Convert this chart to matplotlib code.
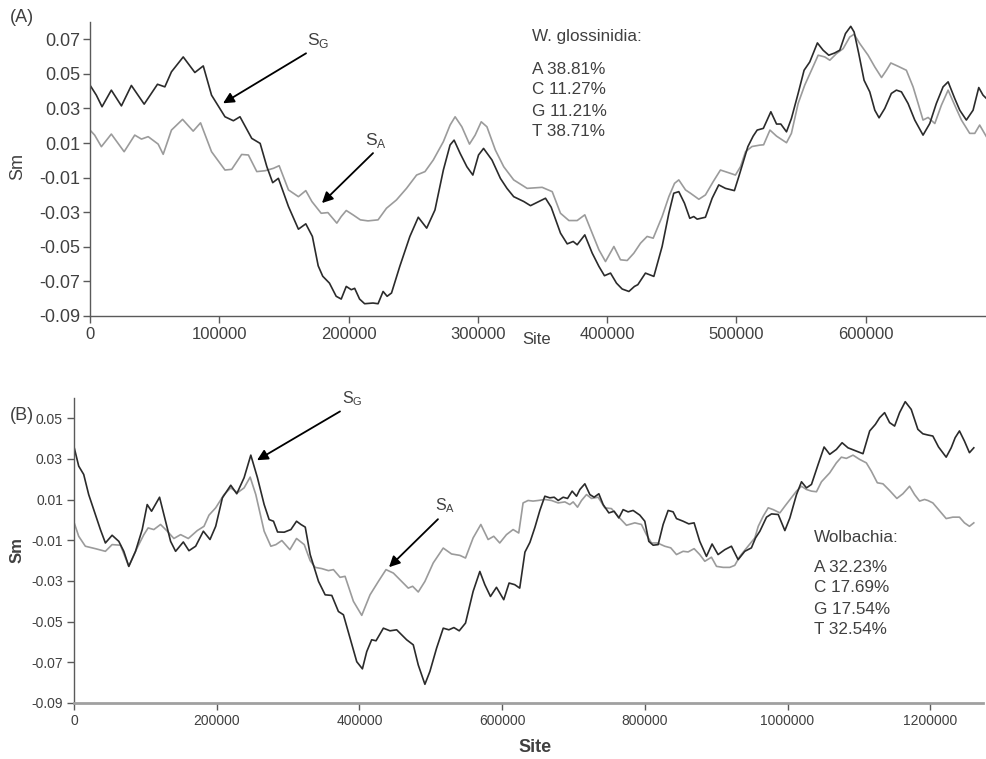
import matplotlib
matplotlib.use("Agg")
import matplotlib.pyplot as plt

plt.rcParams['font.family'] = ['Liberation Sans', 'DejaVu Sans']
plt.rcParams['mathtext.fontset'] = 'custom'
plt.rcParams['mathtext.rm'] = 'Liberation Sans'
plt.rcParams['axes.unicode_minus'] = False

# ---------------- (A) W. glossinidia ----------------
wg_site_G = [0, 4900, 9300, 16500, 24300, 32000, 41900, 52200, 57900, 63000, 72100, 81100, 87600,
             94000, 104400, 110900, 116000, 125100, 131600, 136800, 141300, 145700, 153500, 161200,
             166900, 172000, 176500, 180000, 185200, 190400, 194300, 198200, 202100, 204700, 208500,
             212400, 218900, 222800, 226700, 229800, 233200, 239600, 247400, 253900, 260400, 266800,
             273300, 278500, 281600, 286300, 291500, 296100, 300500, 304400, 310900, 317400, 322500,
             327700, 335500, 340700, 352300, 356700, 363900, 369100, 373700, 376800, 382700, 388400,
             393600, 397900, 402600, 407200, 411600, 416800, 421100, 423700, 429600, 436100, 442500,
             447700, 451500, 455400, 459800, 463900, 467000, 469600, 476000, 481200, 486300, 491500,
             498400, 501800, 505700, 508800, 512900, 516000, 520800, 526600, 531000, 534300, 538700,
             542500, 547700, 552300, 556700, 562600, 567000, 571400, 576000, 579900, 584300, 588400,
             591000, 594600, 598700, 603100, 607000, 610300, 614700, 619800, 623700, 627600, 632700,
             637900, 644300, 649500, 654600, 659800, 663700, 668800, 672700, 677800, 683000, 687400,
             690700, 693300]
wg_SG = [0.0435, 0.0377, 0.031, 0.0406, 0.0315, 0.0433, 0.0325, 0.044, 0.0425, 0.0512, 0.0598, 0.0508,
         0.0546, 0.0377, 0.0252, 0.0229, 0.0252, 0.0127, 0.0098, -0.0037, -0.0129, -0.0104, -0.0267,
         -0.0398, -0.0367, -0.044, -0.061, -0.067, -0.071, -0.0786, -0.0802, -0.0729, -0.0748, -0.074,
         -0.0802, -0.0829, -0.0825, -0.0829, -0.0758, -0.0786, -0.0767, -0.0613, -0.044, -0.0329,
         -0.0392, -0.0287, -0.0056, 0.0089, 0.0117, 0.004, -0.0037, -0.0085, 0.0031, 0.0069, 0.0002,
         -0.0104, -0.0162, -0.021, -0.0238, -0.0262, -0.0219, -0.0271, -0.0421, -0.0483, -0.0469,
         -0.0488, -0.0431, -0.0536, -0.0613, -0.0667, -0.0652, -0.071, -0.0744, -0.0758, -0.0729,
         -0.0719, -0.0652, -0.0671, -0.0498, -0.0306, -0.019, -0.0181, -0.0248, -0.0335, -0.0325,
         -0.034, -0.0329, -0.0219, -0.0142, -0.0162, -0.0175, -0.0094, 0.0002, 0.0079, 0.014, 0.0175,
         0.0185, 0.0281, 0.021, 0.021, 0.0165, 0.0242, 0.0387, 0.0521, 0.0569, 0.0679, 0.0637, 0.0608,
         0.0621, 0.0637, 0.0733, 0.0775, 0.0742, 0.0617, 0.0463, 0.0396, 0.029, 0.0246, 0.03, 0.0387,
         0.0406, 0.0396, 0.0329, 0.0233, 0.0146, 0.0213, 0.0329, 0.0425, 0.0454, 0.0358, 0.029, 0.0233,
         0.029, 0.0421, 0.0377, 0.0358]

wg_site_A = [0, 3600, 8800, 16500, 26400, 34600, 39800, 45000, 52700, 56600, 63000, 71600, 79800,
             85500, 94000, 104400, 109600, 117300, 122500, 129000, 135400, 141900, 146300, 153500,
             161200, 166900, 171600, 178800, 184000, 190900, 194300, 198200, 203400, 209100, 215000,
             222800, 229300, 237000, 244800, 252600, 259100, 265500, 273300, 278500, 282400, 287600,
             293500, 297900, 302600, 307000, 313500, 320000, 327700, 338100, 349700, 357500, 363900,
             370400, 376800, 382700, 388400, 393600, 398700, 405200, 410300, 415500, 420600, 425800,
             430900, 435600, 442500, 447700, 452100, 455400, 460600, 464400, 470900, 476000, 482000,
             487600, 495300, 499200, 503100, 507000, 512000, 518000, 521000, 525900, 531000, 538700,
             542500, 547700, 552800, 558000, 563200, 568300, 572200, 577300, 582500, 587600, 591000,
             595400, 601800, 607000, 612200, 616000, 619400, 625000, 631400, 636600, 640500, 644300,
             648200, 653400, 658500, 663700, 668800, 674000, 680400, 684300, 688100, 693300]
wg_SA = [0.0175, 0.0146, 0.0079, 0.0152, 0.005, 0.0146, 0.0123, 0.0137, 0.0094, 0.0035, 0.0175, 0.0237,
         0.0169, 0.0217, 0.005, -0.0056, -0.0052, 0.0034, 0.0031, -0.0065, -0.006, -0.0046, -0.0031,
         -0.0171, -0.021, -0.0175, -0.0238, -0.0306, -0.0302, -0.0363, -0.0325, -0.029, -0.0315,
         -0.0344, -0.035, -0.0344, -0.0277, -0.0229, -0.0162, -0.0085, -0.0065, 0.0002, 0.0108, 0.0204,
         0.0252, 0.0194, 0.0094, 0.0146, 0.0223, 0.0194, 0.006, -0.0037, -0.0113, -0.0162, -0.0156,
         -0.0181, -0.0306, -0.0348, -0.0348, -0.0315, -0.0421, -0.0517, -0.0585, -0.0498, -0.0575,
         -0.0579, -0.0537, -0.0479, -0.044, -0.045, -0.0325, -0.021, -0.0133, -0.0113, -0.0171, -0.019,
         -0.0225, -0.02, -0.0123, -0.0056, -0.0075, -0.0085, -0.0037, 0.005, 0.008, 0.0088, 0.009,
         0.0175, 0.014, 0.0102, 0.0156, 0.0329, 0.0435, 0.0521, 0.0608, 0.0598, 0.0579, 0.0617, 0.0646,
         0.0713, 0.0729, 0.0675, 0.0608, 0.054, 0.0479, 0.0521, 0.0563, 0.0544, 0.0521, 0.0425, 0.0329,
         0.0233, 0.0248, 0.0213, 0.0319, 0.0406, 0.0319, 0.0233, 0.0156, 0.0156, 0.0204, 0.0137]

wg_composition = ["A 38.81%", "C 11.27%", "G 11.21%", "T 38.71%"]

# ---------------- (B) Wolbachia ----------------
wb_site_G = [0, 6600, 13600, 20600, 30000, 37000, 44000, 53400, 62800, 69800, 76800, 86200, 95600,
             102600, 108700, 119900, 128300, 135400, 142400, 153200, 161100, 170500, 181300, 190600,
             198600, 208000, 219700, 228100, 238400, 247800, 257100, 266500, 273500, 279600, 285300,
             294600, 304000, 311900, 318000, 324100, 331000, 342700, 352000, 361300, 370600, 377600,
             386900, 396300, 404200, 410300, 417200, 423300, 433600, 442900, 452200, 466200, 475500,
             482500, 491800, 498800, 508200, 517500, 525400, 532400, 539900, 548700, 559400, 568800,
             575800, 583700, 592100, 602300, 609800, 617700, 624700, 632000, 639000, 646000, 653000,
             659900, 666900, 673000, 678600, 685600, 691700, 698200, 704300, 709000, 716000, 723000,
             729000, 735600, 741600, 749600, 757000, 763600, 769600, 776600, 783600, 793000, 800000,
             805600, 811700, 818700, 825700, 832700, 839700, 844400, 853700, 861600, 869100, 877000,
             886400, 894300, 902700, 912100, 921400, 930800, 940100, 949400, 955200, 961300, 970600,
             977600, 987000, 996300, 1003300, 1012600, 1019600, 1026600, 1033600, 1042900, 1051300,
             1059200, 1068500, 1076500, 1084800, 1094200, 1105800, 1115200, 1123100, 1129100, 1136100,
             1143100, 1150100, 1157100, 1165000, 1173400, 1182700, 1189700, 1196700, 1203700, 1211700,
             1222400, 1229400, 1235000, 1241000, 1248000, 1255000, 1261100]
wb_SG = [0.036, 0.0265, 0.0224, 0.0125, 0.0027, -0.0047, -0.0113, -0.0075, -0.0105, -0.0154, -0.0228,
         -0.0154, -0.0047, 0.0076, 0.0043, 0.0112, -0.0006, -0.0105, -0.0154, -0.0108, -0.0151, -0.0129,
         -0.0055, -0.0096, -0.0031, 0.0109, 0.0171, 0.0129, 0.0208, 0.0319, 0.0208, 0.0076, 0.0002,
         -0.0006, -0.0059, -0.006, -0.0047, -0.0006, -0.0022, -0.0035, -0.017, -0.0302, -0.0368,
         -0.0371, -0.045, -0.0466, -0.0581, -0.0697, -0.0732, -0.0647, -0.0589, -0.0594, -0.0532,
         -0.0545, -0.054, -0.0589, -0.0614, -0.0713, -0.0808, -0.0745, -0.063, -0.0532, -0.054,
         -0.0529, -0.0545, -0.0507, -0.0351, -0.0253, -0.0318, -0.0376, -0.0331, -0.0392, -0.031,
         -0.0318, -0.0335, -0.0158, -0.011, -0.0036, 0.0048, 0.0117, 0.0109, 0.0112, 0.0096, 0.0112,
         0.0106, 0.0142, 0.0117, 0.015, 0.0178, 0.0125, 0.0112, 0.0129, 0.0076, 0.0035, 0.0043, 0.001,
         0.0051, 0.004, 0.0047, 0.0024, -0.0006, -0.0105, -0.0124, -0.0121, -0.0022, 0.0047, 0.004,
         0.0007, -0.0006, -0.0019, -0.0014, -0.0105, -0.0179, -0.0118, -0.017, -0.0146, -0.0129,
         -0.0195, -0.0154, -0.0137, -0.0088, -0.0055, 0.0014, 0.003, 0.0027, -0.0052, 0.001, 0.0125,
         0.0188, 0.0158, 0.0175, 0.0273, 0.0359, 0.0323, 0.0347, 0.038, 0.0355, 0.0342, 0.0326, 0.0438,
         0.047, 0.0503, 0.0528, 0.0479, 0.0462, 0.0528, 0.0582, 0.0544, 0.0446, 0.0424, 0.0418, 0.0413,
         0.0359, 0.0309, 0.0355, 0.0405, 0.0438, 0.0388, 0.0331, 0.0355]

wb_site_A = [0, 6600, 15900, 30000, 44000, 53400, 65100, 76800, 88500, 97900, 103900, 111900, 121300,
             130700, 140000, 149400, 160200, 172800, 182200, 189200, 198600, 210300, 219700, 229100,
             238400, 246900, 254800, 266500, 275900, 283000, 291300, 302600, 311900, 322700, 331000,
             338000, 347300, 356600, 363600, 372900, 379900, 391600, 403300, 414900, 426600, 437300,
             447600, 456900, 468500, 474600, 482500, 491800, 503500, 517500, 529100, 540800, 548700,
             559400, 570200, 580400, 588300, 596700, 606100, 615400, 623300, 629400, 636400, 643400,
             650600, 659900, 669200, 678600, 688000, 694900, 699600, 705700, 711300, 718300, 725300,
             734600, 743900, 753300, 763600, 774300, 786000, 795300, 802300, 809300, 817700, 828000,
             836400, 844400, 853700, 860700, 869100, 877000, 884100, 893400, 900500, 909800, 919100,
             926100, 933100, 944800, 954200, 959000, 966000, 973000, 980000, 989300, 996300, 1004700,
             1012600, 1019600, 1026600, 1033600, 1040600, 1047600, 1059200, 1068500, 1075500, 1082500,
             1091800, 1101100, 1110500, 1117500, 1125900, 1133800, 1143100, 1153300, 1161700, 1171100,
             1178100, 1185100, 1192100, 1196700, 1203700, 1211700, 1222400, 1231700, 1241000, 1248000,
             1255000, 1261100]
wb_SA = [-0.0011, -0.008, -0.0129, -0.0141, -0.0154, -0.0121, -0.0124, -0.0228, -0.0137, -0.0072,
         -0.0039, -0.0047, -0.0022, -0.0055, -0.0091, -0.0072, -0.0091, -0.0052, -0.0031, 0.0024, 0.006,
         0.0125, 0.0158, 0.0134, 0.0158, 0.0211, 0.0125, -0.0055, -0.0129, -0.0121, -0.0101, -0.0146,
         -0.0091, -0.0121, -0.02, -0.0233, -0.0239, -0.0249, -0.0244, -0.0282, -0.0277, -0.04, -0.0469,
         -0.0368, -0.0302, -0.0244, -0.0261, -0.0294, -0.0335, -0.0326, -0.0354, -0.0302, -0.0211,
         -0.0138, -0.0167, -0.0174, -0.0187, -0.0088, -0.0022, -0.0096, -0.008, -0.0113, -0.0072,
         -0.0047, -0.0064, 0.0084, 0.0096, 0.0093, 0.0096, 0.0101, 0.0096, 0.0084, 0.0089, 0.0076,
         0.0089, 0.0063, 0.0096, 0.0125, 0.0106, 0.0112, 0.006, 0.0056, 0.0014, -0.0026, -0.0014,
         -0.0022, -0.0072, -0.0113, -0.0113, -0.0129, -0.0137, -0.017, -0.0154, -0.0157, -0.0141,
         -0.017, -0.0203, -0.0183, -0.0228, -0.0233, -0.0233, -0.0223, -0.0179, -0.0129, -0.0088,
         -0.0031, 0.0019, 0.006, 0.0051, 0.0035, 0.0068, 0.0106, 0.0142, 0.0166, 0.015, 0.0142, 0.0139,
         0.0188, 0.0232, 0.0281, 0.0309, 0.0303, 0.0319, 0.0298, 0.0281, 0.024, 0.0183, 0.0178, 0.0145,
         0.0106, 0.0129, 0.0166, 0.0125, 0.0093, 0.0101, 0.0096, 0.0084, 0.0051, 0.0007, 0.0014, 0.0014,
         -0.0014, -0.0031, -0.0014]

wb_composition = ["A 32.23%", "C 17.69%", "G 17.54%", "T 32.54%"]

# axis ticks
a_xticks = [0, 100000, 200000, 300000, 400000, 500000, 600000]
a_yticks = [-0.09, -0.07, -0.05, -0.03, -0.01, 0.01, 0.03, 0.05, 0.07]
b_xticks = [0, 200000, 400000, 600000, 800000, 1000000, 1200000]
b_yticks = [-0.09, -0.07, -0.05, -0.03, -0.01, 0.01, 0.03, 0.05]

DARK = '#2b2b2b'
GREY = '#9b9b9b'
TXT = '#404040'

W, H = 986, 759
fig = plt.figure(figsize=(W / 100, H / 100), dpi=100)


def fx(px):
    return px / W


def fy(py):
    return 1 - py / H


def style_axes(ax, xticks, yticks, xfs, yfs, bottom_color, bottom_lw, ypad):
    for s in ('top', 'right'):
        ax.spines[s].set_visible(False)
    ax.spines['left'].set_color('#5a5a5a')
    ax.spines['left'].set_linewidth(1.0)
    ax.spines['bottom'].set_color(bottom_color)
    ax.spines['bottom'].set_linewidth(bottom_lw)
    ax.set_xticks(xticks)
    ax.set_xticklabels([str(v) for v in xticks])
    ax.set_yticks(yticks)
    ax.set_yticklabels(['%.2f' % v for v in yticks])
    ax.tick_params(axis='both', direction='out', length=5, width=1.0, color='#5a5a5a',
                   labelcolor=TXT)
    ax.tick_params(axis='x', labelsize=xfs, pad=3)
    ax.tick_params(axis='y', labelsize=yfs, pad=ypad)


arrow = dict(arrowstyle='-|>', color='black', lw=1.3, mutation_scale=16, shrinkA=0, shrinkB=0)

# ---- panel A ----
ax1 = fig.add_axes([fx(90), fy(316), fx(986 - 90), fy(22) - fy(316)])
ax1.plot(wg_site_A, wg_SA, color=GREY, lw=1.2, solid_joinstyle='round')
ax1.plot(wg_site_G, wg_SG, color=DARK, lw=1.2, solid_joinstyle='round')
ax1.set_xlim(0, 693000)
ax1.set_ylim(-0.09, 0.08)
style_axes(ax1, a_xticks, a_yticks, 12, 13, '#5a5a5a', 1.0, 2)

ax1.annotate('', xy=(102900, 0.033), xytext=(167100, 0.0619), arrowprops=arrow)
ax1.text(176300, 0.0694, r'S$_{\mathregular{G}}$', fontsize=12.5, color=TXT, ha='center', va='center')
ax1.annotate('', xy=(179400, -0.0247), xytext=(218900, 0.0042), arrowprops=arrow)
ax1.text(221000, 0.0117, r'S$_{\mathregular{A}}$', fontsize=12.5, color=TXT, ha='center', va='center')

fig.text(fx(22), fy(18), '(A)', fontsize=13, color=TXT, ha='center', va='center')
fig.text(fx(18), fy(167), 'Sm', fontsize=13, color=TXT, ha='center', va='center', rotation=90)
fig.text(fx(537), fy(340), 'Site', fontsize=12, color=TXT, ha='center', va='center')
fig.text(fx(532), fy(37), 'W. glossinidia:', fontsize=12.3, color=TXT, ha='left', va='center')
for i, line in enumerate(wg_composition):
    fig.text(fx(532), fy(69 + 21 * i), line, fontsize=12.3, color=TXT, ha='left', va='center')

# ---- panel B ----
ax2 = fig.add_axes([fx(74), fy(703), fx(983 - 74), fy(398) - fy(703)])
ax2.plot(wb_site_A, wb_SA, color=GREY, lw=1.2, solid_joinstyle='round')
ax2.plot(wb_site_G, wb_SG, color=DARK, lw=1.2, solid_joinstyle='round')
ax2.set_xlim(0, 1274000)
ax2.set_ylim(-0.09, 0.06)
style_axes(ax2, b_xticks, b_yticks, 10, 10, '#a0a0a0', 2.0, 3)

ax2.annotate('', xy=(256500, 0.0294), xytext=(372800, 0.0534), arrowprops=arrow)
ax2.text(389600, 0.0598, r'S$_{\mathregular{G}}$', fontsize=11.5, color=TXT, ha='center', va='center')
ax2.annotate('', xy=(441500, -0.0232), xytext=(510100, 0.0004), arrowprops=arrow)
ax2.text(520000, 0.0073, r'S$_{\mathregular{A}}$', fontsize=11.5, color=TXT, ha='center', va='center')

fig.text(fx(22), fy(415), '(B)', fontsize=13, color=TXT, ha='center', va='center')
fig.text(fx(17), fy(550), 'Sm', fontsize=12, color=TXT, ha='center', va='center', rotation=90,
         fontweight='bold')
fig.text(fx(535), fy(748), 'Site', fontsize=13, color=TXT, ha='center', va='center', fontweight='bold')
fig.text(fx(814), fy(537), 'Wolbachia:', fontsize=12.3, color=TXT, ha='left', va='center')
for i, line in enumerate(wb_composition):
    fig.text(fx(814), fy(567 + 21 * i), line, fontsize=12.3, color=TXT, ha='left', va='center')

fig.savefig('out.png', dpi=100)
